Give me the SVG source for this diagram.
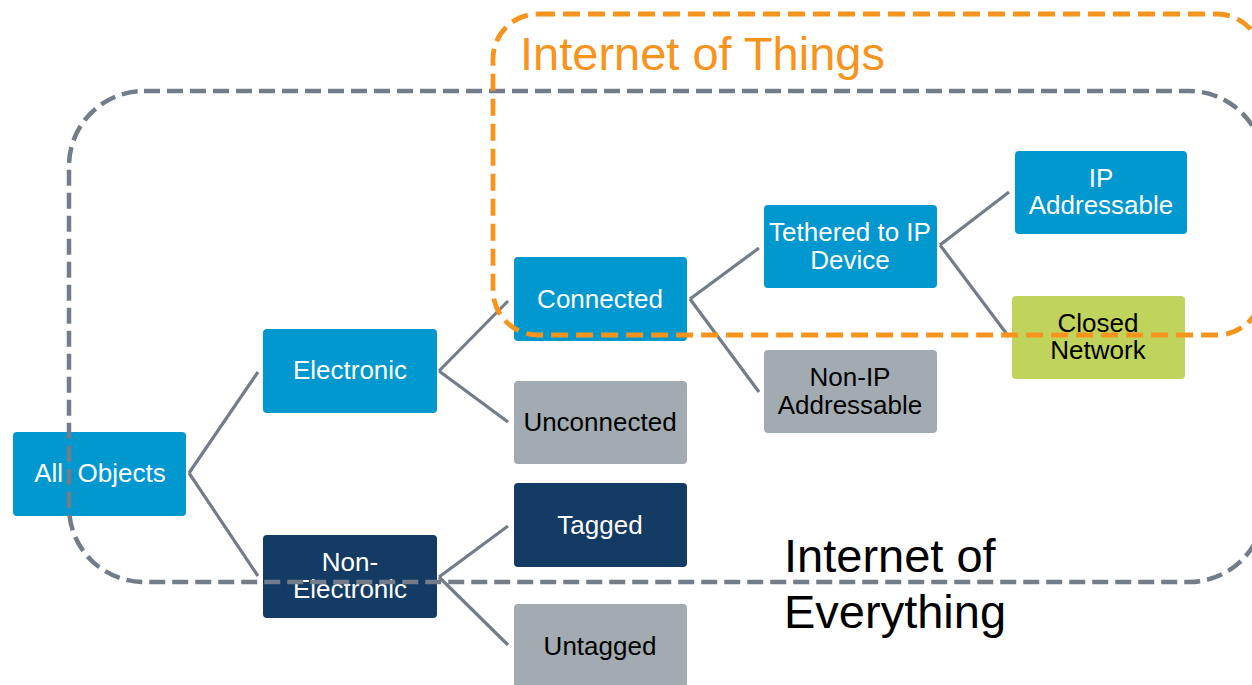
<svg xmlns="http://www.w3.org/2000/svg" width="1252" height="685" viewBox="0 0 1252 685">
<style>
.n rect{rx:4;ry:4}
.blue{fill:#0098cf}
.navy{fill:#133b63}
.gray{fill:#a2abb2}
.green{fill:#c0d35a}
text{font-family:"Liberation Sans",Arial,sans-serif;font-size:26px;text-anchor:middle}
.w{fill:#ffffff}
.k{fill:#000000}
#connectors line{stroke:#737d8a;stroke-width:3.2;fill:none}
.big{font-size:47px;text-anchor:start}
</style>
<rect width="1252" height="685" fill="#ffffff"/>
<g id="connectors">
<line x1="189" y1="473" x2="258" y2="372"/>
<line x1="189" y1="473" x2="258" y2="576"/>
<line x1="439" y1="371" x2="508" y2="301"/>
<line x1="439" y1="371" x2="508" y2="422"/>
<line x1="439" y1="577" x2="508" y2="526"/>
<line x1="439" y1="577" x2="508" y2="645"/>
<line x1="690" y1="299" x2="759" y2="248"/>
<line x1="690" y1="299" x2="759" y2="392"/>
<line x1="940" y1="245" x2="1009" y2="192"/>
<line x1="940" y1="245" x2="1009" y2="337"/>
</g>
<g id="all-objects" class="n"><rect class="blue" x="13" y="432" width="173" height="84"/><text class="w" x="100" y="482" xml:space="preserve">All  Objects</text></g>
<g id="electronic" class="n"><rect class="blue" x="263" y="329" width="174" height="84"/><text class="w" x="350" y="379">Electronic</text></g>
<g id="non-electronic" class="n"><rect class="navy" x="263" y="535" width="174" height="83"/><text class="w" x="350" y="571">Non-</text><text class="w" x="350" y="598">Electronic</text></g>
<g id="connected" class="n"><rect class="blue" x="514" y="257" width="173" height="84"/><text class="w" x="600" y="308">Connected</text></g>
<g id="unconnected" class="n"><rect class="gray" x="514" y="381" width="173" height="83"/><text class="k" x="600" y="431">Unconnected</text></g>
<g id="tagged" class="n"><rect class="navy" x="514" y="483" width="173" height="84"/><text class="w" x="600" y="534">Tagged</text></g>
<g id="untagged" class="n"><rect class="gray" x="514" y="604" width="173" height="84"/><text class="k" x="600" y="655">Untagged</text></g>
<g id="tethered" class="n"><rect class="blue" x="764" y="205" width="173" height="83"/><text class="w" x="850" y="241">Tethered to IP</text><text class="w" x="850" y="269">Device</text></g>
<g id="non-ip" class="n"><rect class="gray" x="764" y="350" width="173" height="83"/><text class="k" x="850" y="386">Non-IP</text><text class="k" x="850" y="414">Addressable</text></g>
<g id="ip-addressable" class="n"><rect class="blue" x="1015" y="151" width="172" height="83"/><text class="w" x="1101" y="187">IP</text><text class="w" x="1101" y="214">Addressable</text></g>
<g id="closed-network" class="n"><rect class="green" x="1012" y="296" width="173" height="83"/><text class="k" x="1098" y="332">Closed</text><text class="k" x="1098" y="359">Network</text></g>
<g id="ioe">
<rect x="69" y="91" width="1195" height="491" rx="75" ry="75" fill="none" stroke="#737d8a" stroke-width="4.5" stroke-dasharray="16 7"/>
<text class="big k" x="784" y="572">Internet of</text>
<text class="big k" x="784" y="628">Everything</text>
</g>
<g id="iot">
<rect x="493" y="14" width="769" height="321" rx="45" ry="45" fill="none" stroke="#f7941d" stroke-width="4.8" stroke-dasharray="17 8"/>
<text class="big" x="520" y="70" fill="#f7941d">Internet of Things</text>
</g>
</svg>
